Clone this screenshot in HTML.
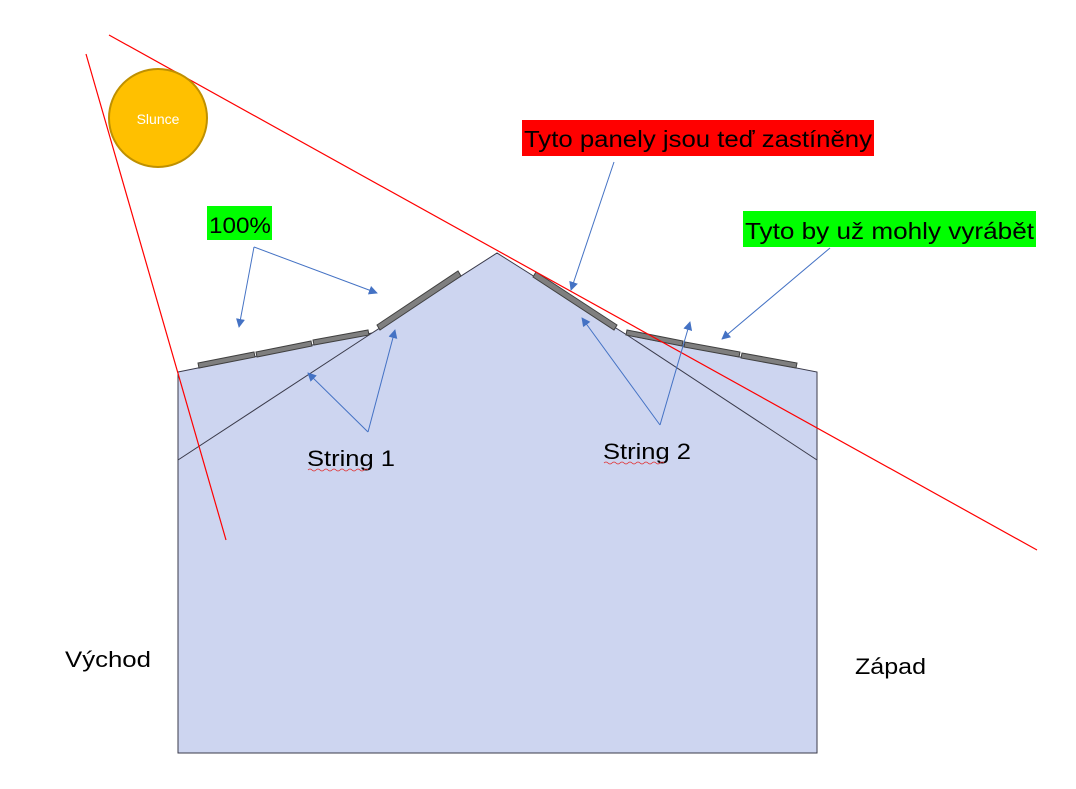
<!DOCTYPE html>
<html><head><meta charset="utf-8"><style>html,body{margin:0;padding:0;background:#fff}svg{display:block}</style></head>
<body>
<svg width="1076" height="789" viewBox="0 0 1076 789" xmlns="http://www.w3.org/2000/svg" font-family="Liberation Sans, sans-serif">
<defs>
<marker id="a" viewBox="0 0 10 10" refX="9" refY="5" markerWidth="9" markerHeight="9" orient="auto" markerUnits="userSpaceOnUse"><path d="M0,0 L10,5 L0,10 z" fill="#4472c4"/></marker>
</defs>
<polygon points="178,372 372,333 497,253 627,335 817,372 817,753 178,753" fill="#cdd5f0" stroke="#3a3a4a" stroke-width="1"/>
<line x1="178" y1="460" x2="372" y2="333" stroke="#3a3a4a" stroke-width="1"/>
<line x1="817" y1="460" x2="627" y2="335" stroke="#3a3a4a" stroke-width="1"/>
<g fill="#7f7f7f" stroke="#404040" stroke-width="1">
<polygon points="198,363 254,352 255,357 199,368"/>
<polygon points="256,352 311,341 312,346 257,357"/>
<polygon points="313,340 368,330 369,335 314,345"/>
<polygon points="377,325 458,271 461,276 380,330"/>
<polygon points="536,272 617,325 614,330 533,277"/>
<polygon points="627,330 683,341 682,346 626,335"/>
<polygon points="685,342 740,352 739,357 684,347"/>
<polygon points="742,353 797,363 796,368 741,358"/>
</g>
<line x1="86" y1="54" x2="226" y2="540" stroke="#ff0000" stroke-width="1.2"/>
<line x1="109" y1="35" x2="1037" y2="550" stroke="#ff0000" stroke-width="1.2"/>
<circle cx="158" cy="118" r="49" fill="#ffc000" stroke="#bf9000" stroke-width="2"/>
<text x="158" y="124" fill="#fff" font-size="14" text-anchor="middle">Slunce</text>
<rect x="207" y="206" width="65" height="34" fill="#00ff00"/>
<text x="209" y="233" font-size="22" textLength="62" lengthAdjust="spacingAndGlyphs">100%</text>
<rect x="522" y="120" width="352" height="36" fill="#ff0000"/>
<text x="524" y="147" font-size="23" textLength="348" lengthAdjust="spacingAndGlyphs">Tyto panely jsou teď zastíněny</text>
<rect x="743" y="211" width="293" height="36" fill="#00ff00"/>
<text x="745" y="239" font-size="23" textLength="289" lengthAdjust="spacingAndGlyphs">Tyto by už mohly vyrábět</text>
<g stroke="#4472c4" stroke-width="1" fill="none" marker-end="url(#a)">
<polyline points="254,247 239,327"/>
<polyline points="254,247 377,293"/>
<polyline points="614,162 571,290"/>
<polyline points="830,248 722,339"/>
<polyline points="368,432 395,330"/>
<polyline points="368,432 308,373"/>
<polyline points="660,425 582,318"/>
<polyline points="660,425 690,322"/>
</g>
<text x="307" y="466" font-size="22" textLength="88" lengthAdjust="spacingAndGlyphs">String 1</text>
<text x="603" y="459" font-size="22" textLength="88" lengthAdjust="spacingAndGlyphs">String 2</text>
<path d="M308,470 q2,-2 4,0 t4,0 t4,0 t4,0 t4,0 t4,0 t4,0 t4,0 t4,0 t4,0 t4,0 t4,0 t4,0 t4,0 t4,0" stroke="#e03030" fill="none" stroke-width="0.8"/>
<path d="M604,463 q2,-2 4,0 t4,0 t4,0 t4,0 t4,0 t4,0 t4,0 t4,0 t4,0 t4,0 t4,0 t4,0 t4,0 t4,0 t4,0" stroke="#e03030" fill="none" stroke-width="0.8"/>
<text x="65" y="667" font-size="22" textLength="86" lengthAdjust="spacingAndGlyphs">Východ</text>
<text x="855" y="674" font-size="22" textLength="71" lengthAdjust="spacingAndGlyphs">Západ</text>
</svg>
</body></html>
